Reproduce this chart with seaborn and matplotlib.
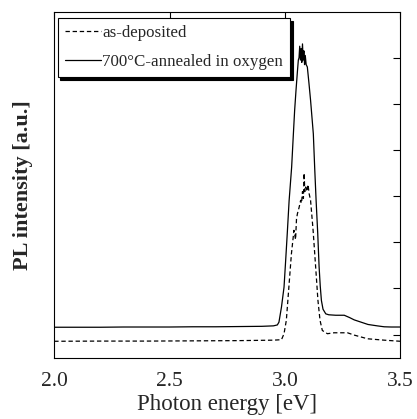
import numpy as np
import pandas as pd
import matplotlib
matplotlib.use("Agg")
import matplotlib.pyplot as plt
import seaborn as sns

# ---- data ----
annealed_energy = [2.00, 2.10, 2.20, 2.30, 2.40, 2.50, 2.60, 2.70, 2.80, 2.90, 2.95, 2.967,
                   2.974, 2.985, 2.996, 3.003, 3.010, 3.018, 3.029, 3.036, 3.042, 3.048, 3.054,
                   3.058, 3.061, 3.064, 3.067, 3.070, 3.073, 3.076, 3.079, 3.082, 3.085, 3.088,
                   3.092, 3.097, 3.104, 3.111, 3.123, 3.129, 3.135, 3.142, 3.148, 3.153, 3.158,
                   3.165, 3.177, 3.190, 3.22, 3.24, 3.257, 3.28, 3.30, 3.33, 3.36, 3.40, 3.43,
                   3.46, 3.50]
annealed_pl = [0.16, 0.16, 0.16, 0.165, 0.165, 0.165, 0.17, 0.17, 0.175, 0.18, 0.19, 0.21,
               0.27, 0.6, 1.03, 1.6, 2.19, 2.9, 3.63, 4.3, 4.86, 5.3, 5.7,
               5.95, 6.0, 6.25, 5.95, 6.2, 5.9, 6.3, 5.95, 6.15, 5.85, 6.05,
               5.85, 5.8, 5.45, 5.08, 4.35, 3.6, 2.91, 2.2, 1.47, 1.05, 0.74,
               0.55, 0.45, 0.43, 0.42, 0.42, 0.42, 0.37, 0.32, 0.27, 0.22, 0.19, 0.17,
               0.165, 0.165]

deposited_energy = [2.00, 2.20, 2.40, 2.60, 2.80, 2.95, 2.985, 2.996, 3.006, 3.017, 3.028,
                    3.039, 3.046, 3.050, 3.054, 3.061, 3.068, 3.072, 3.076, 3.080, 3.083,
                    3.086, 3.090, 3.095, 3.100, 3.105, 3.111, 3.122, 3.133, 3.143, 3.152,
                    3.162, 3.184, 3.213, 3.240, 3.271, 3.30, 3.358, 3.43, 3.50]
deposited_pl = [-0.144, -0.14, -0.14, -0.135, -0.13, -0.12, -0.11, 0.02, 0.31, 1.03, 1.75,
                2.26, 2.06, 2.5, 2.62, 2.75, 2.91, 2.85, 3.1, 2.95, 3.5,
                3.1, 3.2, 3.1, 3.25, 3.05, 2.91, 2.26, 1.47, 0.74, 0.31,
                0.09, 0.02, 0.04, 0.04, 0.04, -0.01, -0.09, -0.12, -0.144]

x_ticks = [2.0, 2.5, 3.0, 3.5]
x_tick_labels = ["2.0", "2.5", "3.0", "3.5"]
y_ticks = [0, 1, 2, 3, 4, 5, 6]

sns.set_style("white")
plt.rcParams["font.family"] = ["Liberation Serif", "DejaVu Serif"]

fig = plt.figure(figsize=(4.17, 4.19), dpi=100)
ax = fig.add_axes([0.130, 0.1463, 0.830, 0.826])

sns.lineplot(x=deposited_energy, y=deposited_pl, ax=ax, color="black", lw=0.9,
             linestyle=(0, (3.5, 2.2)), sort=False, estimator=None, label="as-deposited")
sns.lineplot(x=annealed_energy, y=annealed_pl, ax=ax, color="black", lw=0.9,
             sort=False, estimator=None, label="700°C-annealed in oxygen")

ax.set_xlim(2.0, 3.5)
ax.set_ylim(-0.5, 7.0)
ax.set_xticks(x_ticks)
ax.set_xticklabels(x_tick_labels, fontsize=15.5)
ax.set_yticks(y_ticks)
ax.set_yticklabels([])
ax.tick_params(direction="in", top=True, right=True, length=5, width=0.8,
               color="black", pad=10.5)
for s in ax.spines.values():
    s.set_color("black")
    s.set_linewidth(0.8)

ax.set_xlabel("Photon energy [eV]", fontsize=16.5, labelpad=2)
ax.set_ylabel("PL intensity [a.u.]", fontsize=16, fontweight="bold", labelpad=4.5)

leg = ax.legend(loc="upper left", bbox_to_anchor=(0.01, 0.981), borderaxespad=0,
                fontsize=12.2, handlelength=2.15, handletextpad=0.05, labelspacing=0.75,
                borderpad=0.42, fancybox=False, frameon=True,
                shadow={"color": "black", "alpha": 1.0, "ox": 2, "oy": -2})
leg.get_frame().set_edgecolor("black")
leg.get_frame().set_linewidth(0.8)
leg.get_frame().set_alpha(1)

fig.savefig("out.png", dpi=100)
